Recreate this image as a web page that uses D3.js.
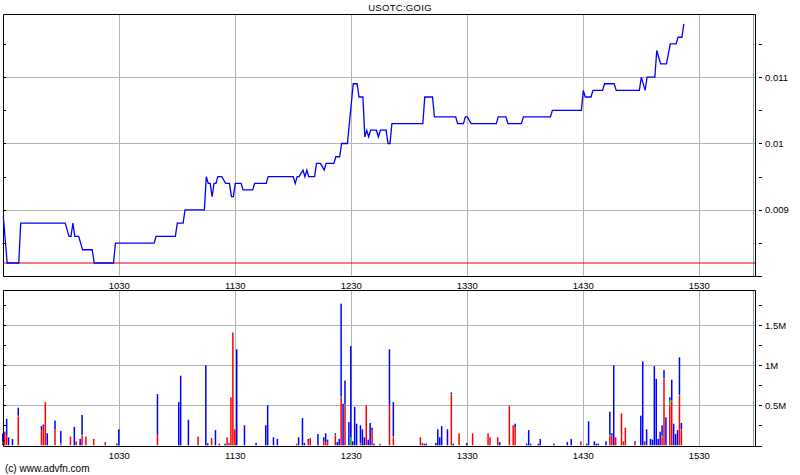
<!DOCTYPE html>
<html><head><meta charset="utf-8">
<script src="https://cdn.jsdelivr.net/npm/d3@7"></script>
<style>body{margin:0;background:#fff}svg{display:block}text{font-family:"Liberation Sans",Arial,sans-serif;fill:#000}</style>
</head><body><svg id="c" width="800" height="475"></svg>
<script>
// ---- data ----
const title = "USOTC:GOIG";
const credit = "(c) www.advfn.com";
const prevClose = 0.0082;
// minutes after 09:30
const priceTimes = [0,2,8,9,32,34,35,36,37,39,40,41,46,47,57,58,78,79,89,90,93,94,104,105,106,107,108,109,110,111,113,115,117,118,119,120,123,124,129,130,136,137,150,151,152,153,155,156,157,158,161,162,164,166,167,171,172,174,175,178,181,183,184,186,187,188,189,190,193,194,195,198,199,200,201,217,218,222,223,234,235,238,239,240,242,255,256,260,261,268,269,283,284,299,300,301,304,305,310,311,316,317,329,330,332,333,337,338,340,343,345,348,349,351,352];
const prices = [0.0089,0.0082,0.0082,0.0088,0.0088,0.0086,0.0086,0.0088,0.0086,0.0086,0.0085,0.0084,0.0084,0.0082,0.0082,0.0085,0.0085,0.0086,0.0086,0.0088,0.0088,0.009,0.009,0.0095,0.0094,0.0094,0.0092,0.0094,0.0094,0.0095,0.0095,0.0094,0.0094,0.0092,0.0092,0.0094,0.0094,0.0093,0.0093,0.0094,0.0094,0.0095,0.0095,0.0094,0.0095,0.0095,0.0096,0.0095,0.0096,0.0095,0.0095,0.0097,0.0097,0.0096,0.0097,0.0097,0.0098,0.0098,0.01,0.01,0.0109,0.0109,0.0107,0.0107,0.0101,0.0102,0.0101,0.0102,0.0102,0.0101,0.0102,0.0102,0.01,0.01,0.0103,0.0103,0.0107,0.0107,0.0104,0.0104,0.0103,0.0103,0.0104,0.0104,0.0103,0.0103,0.0104,0.0104,0.0103,0.0103,0.0104,0.0104,0.0105,0.0105,0.0108,0.0107,0.0107,0.0108,0.0108,0.0109,0.0109,0.0108,0.0108,0.011,0.0108,0.011,0.011,0.0114,0.0112,0.0112,0.0115,0.0115,0.0116,0.0116,0.0118];
// volume (millions): sell (red), neutral (green), buy (blue)
const volTimes = [0,1,2,3,5,8,20,21,22,23,27,30,35,37,38,40,41,43,47,53,59,60,80,91,92,96,
 101,105,106,108,110,112,115,116,117,118,119,120,121,125,131,136,137,140,142,152,153,155,156,158,159,163,166,167,168,172,173,174,175,176,177,179,180,181,182,183,185,186,187,188,189,190,191,192,195,
 200,202,216,217,218,219,224,225,226,227,230,232,233,236,240,243,251,252,256,257,262,264,265,271,272,273,277,278,285,292,
 294,299,302,303,306,307,308,312,314,315,316,317,320,321,322,327,330,331,332,333,335,336,337,338,339,340,341,342,343,345,346,347,348,349,350,351];
const volSell = [0.03,0.17,0.12,0,0,0.36,0.19,0.24,0.54,0,0.20,0.02,0.11,0,0.05,0,0.12,0.11,0.08,0.04,0,0,0.13,0,0,0,
 0.11,0,0,0.09,0,0,0,0.10,0.03,0.60,1.41,0.20,0,0,0,0,0,0,0,0.02,0,0,0,0.05,0.09,0,0.05,0.04,0.05,0.12,0,0,0.60,0,0.50,0,0,0,0,0,0.02,0,0,0.50,0,0,0.19,0,0.02,
 0.50,0.10,0.10,0.03,0,0,0,0,0,0,0,0.63,0,0.15,0,0.15,0.15,0.10,0.10,0,0.49,0.25,0.22,0,0,0,0,0,0,0,
 0,0.05,0,0,0,0,0,0,0.12,0.12,0,0.10,0.40,0.05,0.22,0.03,0,0,0.05,0,0,0,0,0,0,0,0.10,0.83,0,0.50,0.55,0,0,0,0.62,0.19];
const volNeutral = [0.01,0,0,0,0,0.01,0,0,0,0,0,0.01,0,0,0,0,0.01,0,0,0,0,0,0,0,0,0,
 0,0,0,0,0,0,0,0,0,0,0,0,0,0,0,0,0,0,0,0,0,0,0,0,0,0,0,0,0,0.01,0,0,0.01,0,0.01,0,0.10,0,0,0,0.01,0,0,0,0,0,0,0,0,
 0,0.01,0,0,0,0,0,0,0,0,0,0.01,0,0,0,0,0,0,0,0,0.01,0,0,0,0,0,0,0,0,0,
 0,0,0,0,0,0,0,0,0.01,0,0,0,0,0,0,0,0,0,0,0,0,0,0,0,0,0,0.02,0.01,0,0.06,0.01,0,0,0,0.01,0.01];
const volBuy = [0.11,0,0.21,0.10,0.08,0.10,0.05,0.02,0,0.15,0.11,0.15,0,0.23,0,0.08,0.25,0,0,0,0.02,0.20,0.51,0.54,0.87,0.32,
 0,1.0,0.025,0,0.19,0.02,0.02,0,0,0,0,0,1.2,0.25,0.03,0.25,0.50,0.10,0.08,0,0.10,0.34,0.03,0.03,0,0.14,0.05,0.11,0.02,0.02,0.04,0.08,1.16,0.52,0.30,0.29,1.14,0.05,0.48,0.27,0.22,0.20,0.10,0,0.07,0.28,0.03,0.02,0,
 0.70,0.43,0,0,0.02,0.02,0.03,0.20,0.10,0.24,0.20,0.02,0.02,0,0.03,0,0,0,0,0.04,0,0,0.05,0.02,0.19,0.02,0.02,0.08,0.02,0.04,
 0.08,0,0.02,0.30,0.05,0.02,0.02,0.05,0.29,0.03,1.0,0,0,0,0,0.02,0.37,1.05,0,0.20,0.08,0.07,0.99,0.83,0.08,0.17,0.13,0.10,0.35,0.04,0.26,0.27,0.14,0.19,0.47,0.08];
const timeTicks = [60,120,180,240,300,360];
const timeLabels = ["1030","1130","1230","1330","1430","1530"];
const priceTicks = [0.009,0.01,0.011];
const priceLabels = ["0.009","0.01","0.011"];
const priceMinor = [0.0085,0.0095,0.0105,0.0115];
const volTicks = [0.5,1,1.5];
const volLabels = ["0.5M","1M","1.5M"];
const volMinor = [0.25,0.75,1.25,1.75];

// ---- layout ----
const L = 3, R = 755, RA = 762;
const P = {top:14, bottom:276};
const V = {top:290, bottom:446};
const svg = d3.select("#c");
const x = d3.scaleLinear().domain([0,390]).range([3.3,757.3]);
const yP = d3.scaleLinear().domain([0.008,0.01195]).range([276.3,14]);
const yV = d3.scaleLinear().domain([0,1.94]).range([445.3,290.1]);
const grid = "#b4b4b4";

function panel(top,bottom,yScale,ticks,labels,minor){
  const g = svg.append("g");
  g.selectAll("line.vg").data(timeTicks).join("line")
    .attr("x1",d=>Math.round(x(d))+0.5).attr("x2",d=>Math.round(x(d))+0.5)
    .attr("y1",top).attr("y2",bottom).attr("stroke",grid);
  g.selectAll("line.hg").data(ticks).join("line")
    .attr("x1",L).attr("x2",R).attr("y1",d=>Math.round(yScale(d))+0.5).attr("y2",d=>Math.round(yScale(d))+0.5)
    .attr("stroke",grid);
  g.append("line").attr("x1",753.5).attr("x2",753.5).attr("y1",top).attr("y2",bottom).attr("stroke","#8aa0a0");
  g.append("path").attr("d",`M${L+0.5},${top+0.5}H${R+0.5}V${bottom+0.5}H${L+0.5}Z`).attr("fill","none").attr("stroke","#000");
  g.append("line").attr("x1",R).attr("x2",RA).attr("y1",bottom+0.5).attr("y2",bottom+0.5).attr("stroke","#000");
  g.selectAll("line.lt").data(ticks.concat(minor)).join("line")
    .attr("x1",L).attr("x2",L+3).attr("y1",d=>Math.round(yScale(d))+0.5).attr("y2",d=>Math.round(yScale(d))+0.5).attr("stroke","#000");
  g.selectAll("line.rt").data(ticks.concat(minor)).join("line")
    .attr("x1",RA-3).attr("x2",RA).attr("y1",d=>Math.round(yScale(d))+0.5).attr("y2",d=>Math.round(yScale(d))+0.5).attr("stroke","#000");
  g.selectAll("text.rl").data(ticks).join("text")
    .attr("x",765).attr("y",d=>yScale(d)+3.5).attr("font-size","9.5px").text((d,i)=>labels[i]);
  g.selectAll("text.xl").data(timeTicks).join("text")
    .attr("x",d=>x(d)).attr("y",bottom+13).attr("text-anchor","middle").attr("font-size","9.5px").text((d,i)=>timeLabels[i]);
  return g;
}

panel(P.top,P.bottom,yP,priceTicks,priceLabels,priceMinor);
panel(V.top,V.bottom,yV,volTicks,volLabels,volMinor);

svg.append("line").attr("x1",L).attr("x2",R).attr("y1",yP(prevClose)).attr("y2",yP(prevClose)).attr("stroke","#e00000").attr("stroke-width",1);

const pts = priceTimes.map((t,i)=>[t,prices[i]]);
svg.append("path").datum(pts)
  .attr("d",d3.line().x(d=>x(d[0])).y(d=>yP(d[1])))
  .attr("fill","none").attr("stroke","#0000ff").attr("stroke-width",1.3);

const bars = volTimes.map((t,i)=>({t,s:volSell[i],n:volNeutral[i],b:volBuy[i]}));
const bw = 1.5;
const bg = svg.append("g");
function seg(key,lo,hi,color){
  bg.selectAll("rect."+key).data(bars.filter(d=>hi(d)>lo(d))).join("rect").attr("class",key)
    .attr("x",d=>x(d.t)-0.5-bw/2).attr("width",bw)
    .attr("y",d=>yV(hi(d))).attr("height",d=>yV(lo(d))-yV(hi(d))).attr("fill",color);
}
seg("s",d=>0,d=>d.s,"#ff0000");
seg("n",d=>d.s,d=>d.s+d.n,"#00c000");
seg("b",d=>d.s+d.n,d=>d.s+d.n+d.b,"#0000ff");

svg.append("text").attr("x",400).attr("y",11).attr("text-anchor","middle").attr("font-size","9.5px").attr("letter-spacing","0.3px").text(title);
svg.append("text").attr("x",5).attr("y",472).attr("font-size","10px").text(credit);
</script></body></html>
